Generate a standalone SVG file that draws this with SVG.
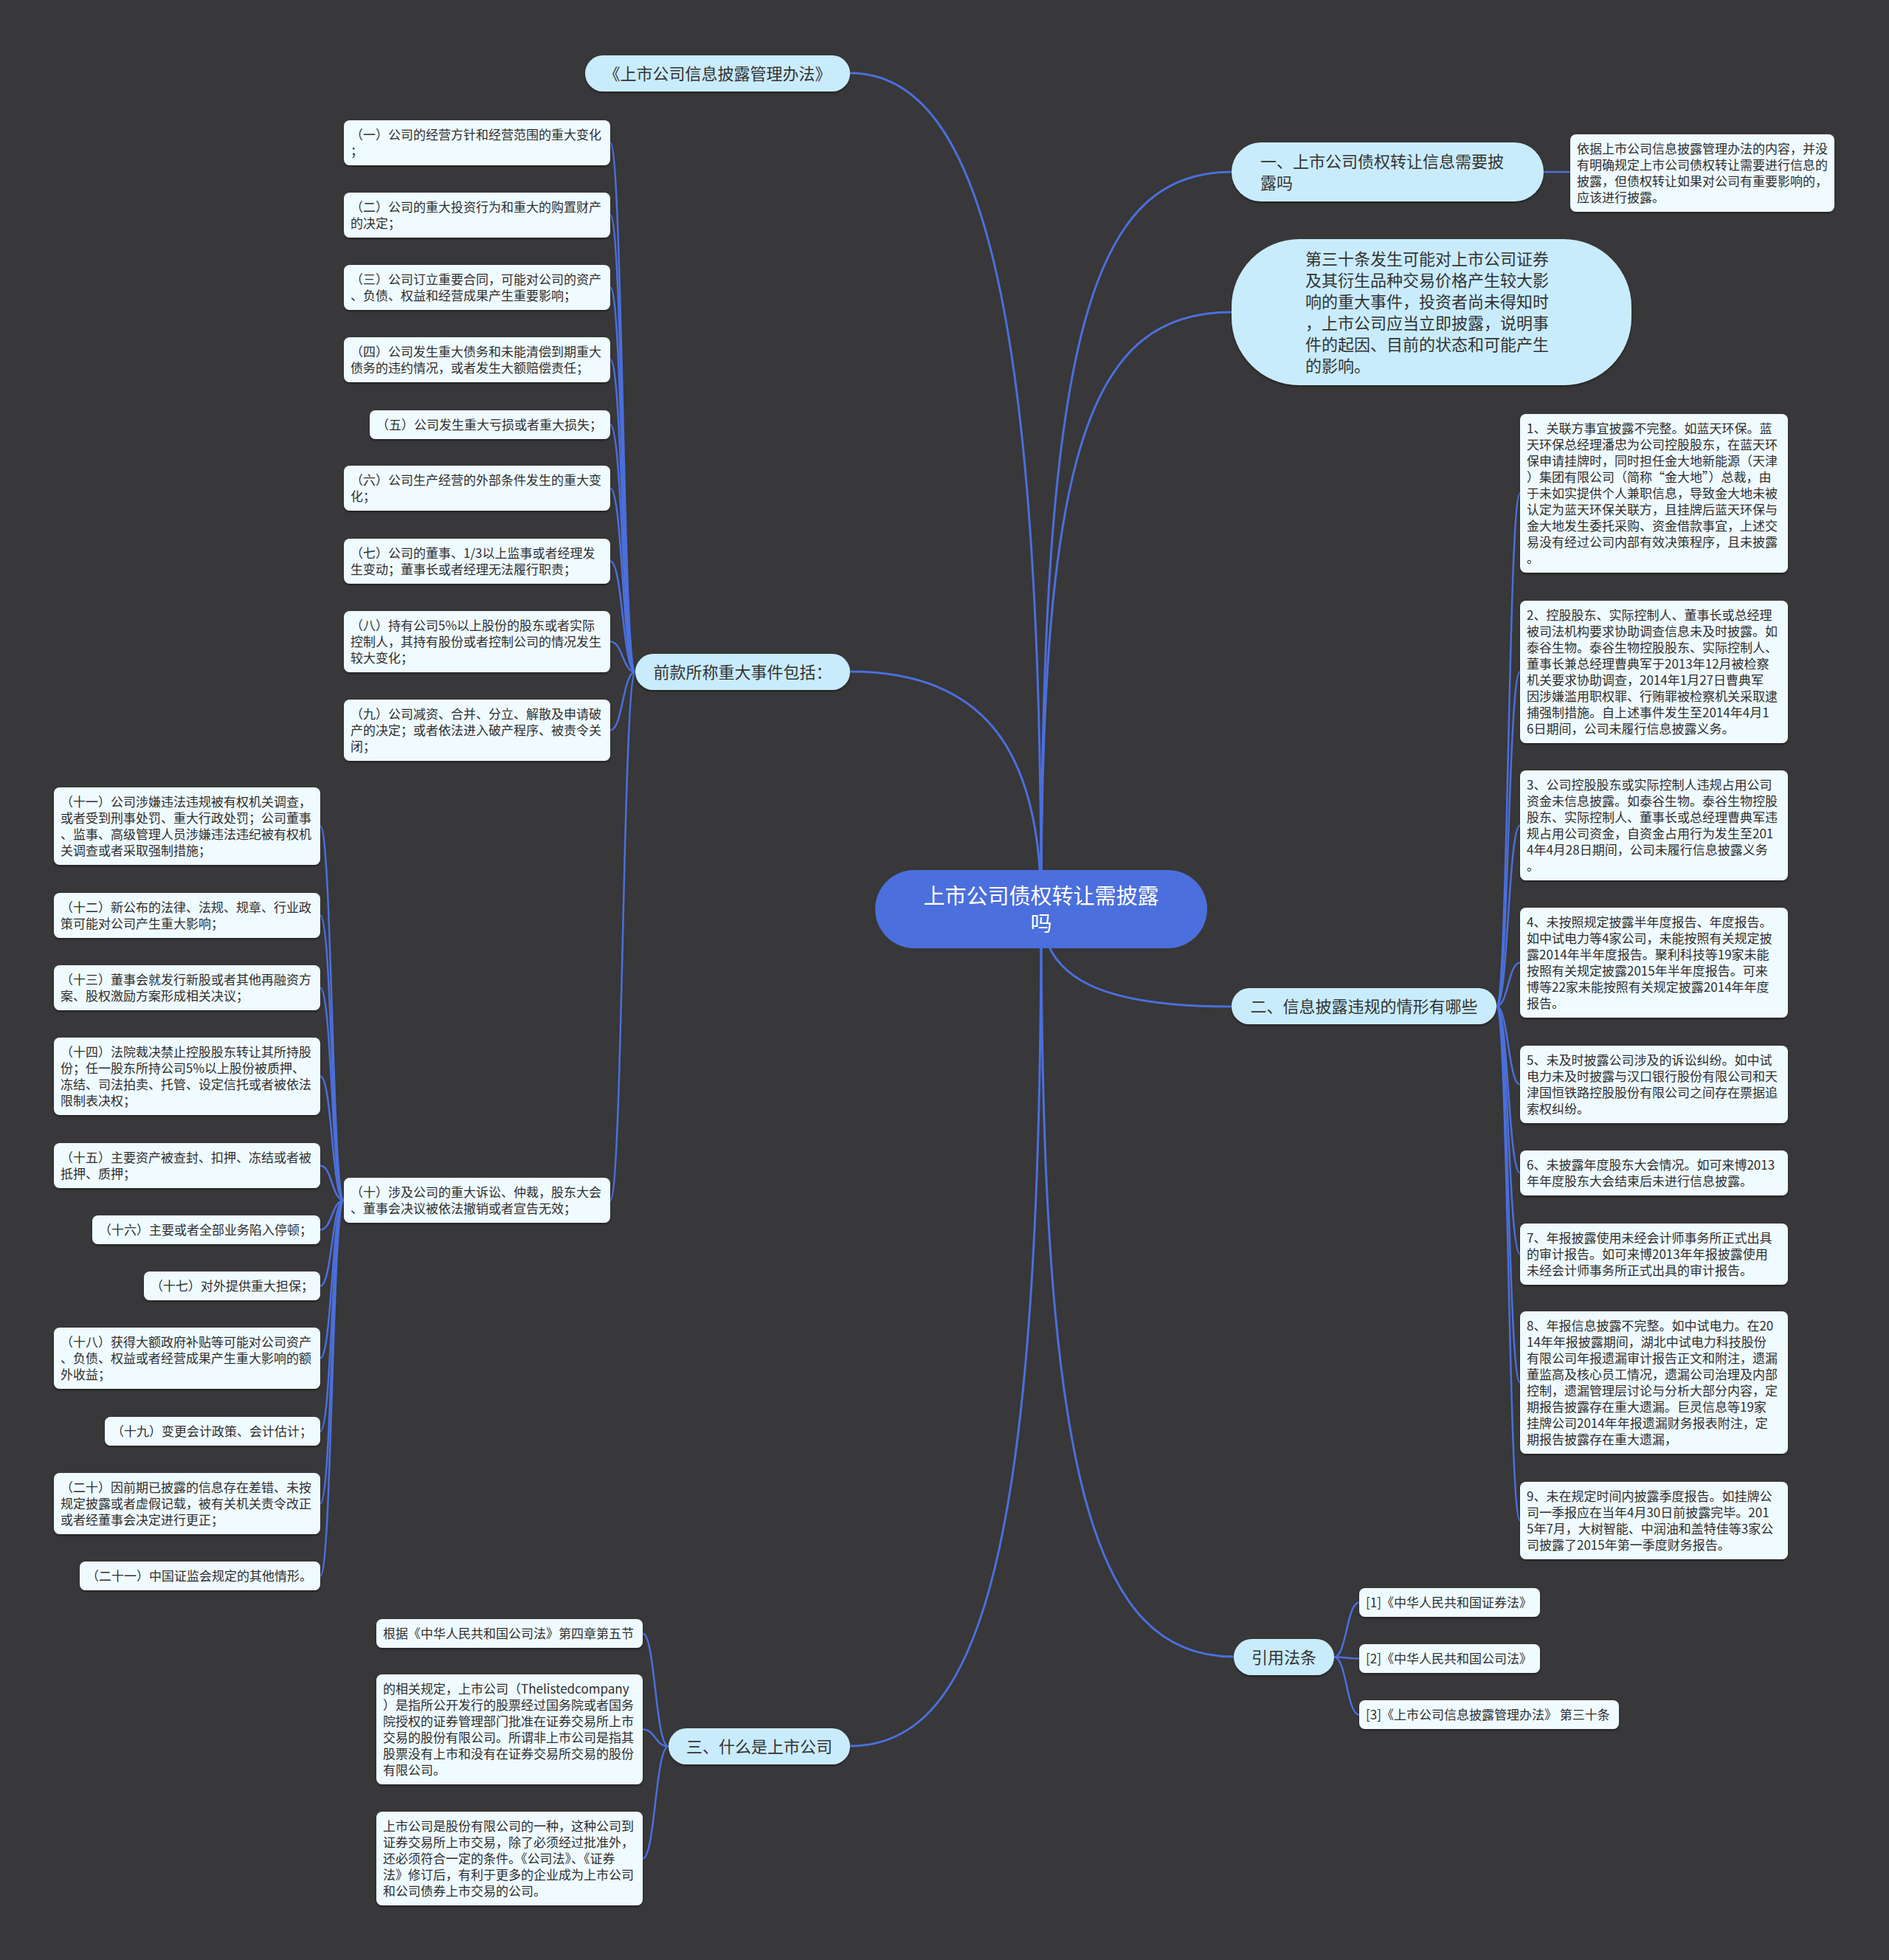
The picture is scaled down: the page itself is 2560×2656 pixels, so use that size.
<svg xmlns="http://www.w3.org/2000/svg" width="2560" height="2656" viewBox="0 0 2560 2656">
<defs>
<filter id="sh" x="-5%" y="-10%" width="110%" height="130%"><feDropShadow dx="0" dy="2" stdDeviation="1.5" flood-color="#000" flood-opacity="0.4"/></filter>
<style>
text{font-family:"Noto Sans CJK SC","Noto Sans",sans-serif}
.leaf{fill:#effbff;filter:url(#sh)}
.lt{font-size:17px;fill:#2e2e2e}
.sub{fill:#c9ecfc;filter:url(#sh)}
.st{font-size:22px;fill:#333}
.stc{font-size:22px;fill:#333;text-anchor:middle}
.conn path{fill:none;stroke:#4b6fdc;stroke-width:2.5}
.conn .main{stroke-width:3}
</style>
</defs>
<rect width="2560" height="2656" fill="#383739"/>
<g class="conn" id="connectors">
<path class="main" d="M1411 1232 C1411 420 1330 99 1152 99"/>
<path class="main" d="M1411 1232 C1411 1000 1320 910 1152 910"/>
<path class="main" d="M1411 1232 C1411 450 1480 233 1669 233"/>
<path class="main" d="M1411 1232 C1411 600 1480 423 1669 423"/>
<path class="main" d="M1411 1232 C1411 1330 1500 1364 1669 1364"/>
<path class="main" d="M1411 1232 C1411 2000 1480 2245 1672 2245"/>
<path class="main" d="M1411 1232 C1411 2100 1330 2366 1152 2366"/>
<path d="M2092 233 L2128 233"/>
<path d="M861 910.5 C844 910.5 844 193.5 827 193.5"/>
<path d="M861 910.5 C844 910.5 844 291.5 827 291.5"/>
<path d="M861 910.5 C844 910.5 844 389.5 827 389.5"/>
<path d="M861 910.5 C844 910.5 844 487.5 827 487.5"/>
<path d="M861 910.5 C844 910.5 844 575.5 827 575.5"/>
<path d="M861 910.5 C844 910.5 844 661.5 827 661.5"/>
<path d="M861 910.5 C844 910.5 844 760.5 827 760.5"/>
<path d="M861 910.5 C844 910.5 844 869.5 827 869.5"/>
<path d="M861 910.5 C844 910.5 844 989.5 827 989.5"/>
<path d="M861 910.5 C844 910.5 844 1626.5 827 1626.5"/>
<path d="M466 1626.5 C450 1626.5 450 1119.5 434 1119.5"/>
<path d="M466 1626.5 C450 1626.5 450 1240.5 434 1240.5"/>
<path d="M466 1626.5 C450 1626.5 450 1338.5 434 1338.5"/>
<path d="M466 1626.5 C450 1626.5 450 1458.5 434 1458.5"/>
<path d="M466 1626.5 C450 1626.5 450 1579.5 434 1579.5"/>
<path d="M466 1626.5 C450 1626.5 450 1666.5 434 1666.5"/>
<path d="M466 1626.5 C450 1626.5 450 1742.5 434 1742.5"/>
<path d="M466 1626.5 C450 1626.5 450 1840.5 434 1840.5"/>
<path d="M466 1626.5 C450 1626.5 450 1939.5 434 1939.5"/>
<path d="M466 1626.5 C450 1626.5 450 2037.5 434 2037.5"/>
<path d="M466 1626.5 C450 1626.5 450 2135.5 434 2135.5"/>
<path d="M2028 1363.5 C2044 1363.5 2044 668.5 2060 668.5"/>
<path d="M2028 1363.5 C2044 1363.5 2044 910.5 2060 910.5"/>
<path d="M2028 1363.5 C2044 1363.5 2044 1118.5 2060 1118.5"/>
<path d="M2028 1363.5 C2044 1363.5 2044 1304.5 2060 1304.5"/>
<path d="M2028 1363.5 C2044 1363.5 2044 1469.5 2060 1469.5"/>
<path d="M2028 1363.5 C2044 1363.5 2044 1589.5 2060 1589.5"/>
<path d="M2028 1363.5 C2044 1363.5 2044 1699.5 2060 1699.5"/>
<path d="M2028 1363.5 C2044 1363.5 2044 1873.5 2060 1873.5"/>
<path d="M2028 1363.5 C2044 1363.5 2044 2060.5 2060 2060.5"/>
<path d="M1808 2245.5 C1825 2245.5 1825 2171.5 1842 2171.5"/>
<path d="M1808 2245.5 C1825 2245.5 1825 2247.5 1842 2247.5"/>
<path d="M1808 2245.5 C1825 2245.5 1825 2323.5 1842 2323.5"/>
<path d="M906 2366.5 C888 2366.5 888 2213.5 871 2213.5"/>
<path d="M906 2366.5 C888 2366.5 888 2343.5 871 2343.5"/>
<path d="M906 2366.5 C888 2366.5 888 2518.5 871 2518.5"/>
</g>

<g id="center">
<rect x="1186" y="1179" width="450" height="106" rx="53" fill="#4b6fdc"/>
<text x="1411" y="1225" font-size="29" fill="#fff" text-anchor="middle">上市公司债权转让需披露</text>
<text x="1411" y="1262" font-size="29" fill="#fff" text-anchor="middle">吗</text>
</g>

<g id="n-title"><rect class="sub" x="793" y="75" width="359" height="49" rx="24.5"/><text class="stc" x="972.5" y="107.5">《上市公司信息披露管理办法》</text></g>
<g id="n-qiankuan"><rect class="sub" x="861" y="886" width="291" height="49" rx="24.5"/><text class="stc" x="1006.5" y="918.5">前款所称重大事件包括：</text></g>
<g id="n-san"><rect class="sub" x="906" y="2342" width="246" height="49" rx="24.5"/><text class="stc" x="1029" y="2374.5">三、什么是上市公司</text></g>
<g id="n-yi"><rect class="sub" x="1669" y="193" width="423" height="80" rx="40"/><text class="st" x="1708" y="227">一、上市公司债权转让信息需要披</text><text class="st" x="1708" y="256">露吗</text></g>
<g id="n-art30"><rect class="sub" x="1669" y="324" width="542" height="198" rx="92"/>
<text class="st" x="1769" y="359">第三十条发生可能对上市公司证券</text>
<text class="st" x="1769" y="388">及其衍生品种交易价格产生较大影</text>
<text class="st" x="1769" y="417">响的重大事件，投资者尚未得知时</text>
<text class="st" x="1769" y="446">，上市公司应当立即披露，说明事</text>
<text class="st" x="1769" y="475">件的起因、目前的状态和可能产生</text>
<text class="st" x="1769" y="504">的影响。</text></g>
<g id="n-er"><rect class="sub" x="1669" y="1339" width="359" height="49" rx="24.5"/><text class="stc" x="1848.5" y="1371.5">二、信息披露违规的情形有哪些</text></g>
<g id="n-yinyong"><rect class="sub" x="1672" y="2221" width="136" height="49" rx="24.5"/><text class="stc" x="1740" y="2253.5">引用法条</text></g>

<g id="l-yiju"><rect class="leaf" x="2128" y="182" width="358" height="105" rx="8"/>
<text class="lt" x="2137" y="208">依据上市公司信息披露管理办法的内容，并没</text>
<text class="lt" x="2137" y="230">有明确规定上市公司债权转让需要进行信息的</text>
<text class="lt" x="2137" y="252">披露，但债权转让如果对公司有重要影响的，</text>
<text class="lt" x="2137" y="274">应该进行披露。</text></g>

<g id="l-1"><rect class="leaf" x="466" y="163" width="361" height="61" rx="8"/><text class="lt" x="475" y="189">（一）公司的经营方针和经营范围的重大变化</text><text class="lt" x="475" y="211">；</text></g>
<g id="l-2"><rect class="leaf" x="466" y="261" width="361" height="61" rx="8"/><text class="lt" x="475" y="287">（二）公司的重大投资行为和重大的购置财产</text><text class="lt" x="475" y="309">的决定；</text></g>
<g id="l-3"><rect class="leaf" x="466" y="359" width="361" height="61" rx="8"/><text class="lt" x="475" y="385">（三）公司订立重要合同，可能对公司的资产</text><text class="lt" x="475" y="407">、负债、权益和经营成果产生重要影响；</text></g>
<g id="l-4"><rect class="leaf" x="466" y="457" width="361" height="61" rx="8"/><text class="lt" x="475" y="483">（四）公司发生重大债务和未能清偿到期重大</text><text class="lt" x="475" y="505">债务的违约情况，或者发生大额赔偿责任；</text></g>
<g id="l-5"><rect class="leaf" x="501" y="556" width="326" height="39" rx="8"/><text class="lt" x="510" y="582">（五）公司发生重大亏损或者重大损失；</text></g>
<g id="l-6"><rect class="leaf" x="466" y="631" width="361" height="61" rx="8"/><text class="lt" x="475" y="657">（六）公司生产经营的外部条件发生的重大变</text><text class="lt" x="475" y="679">化；</text></g>
<g id="l-7"><rect class="leaf" x="466" y="730" width="361" height="61" rx="8"/><text class="lt" x="475" y="756">（七）公司的董事、1/3以上监事或者经理发</text><text class="lt" x="475" y="778">生变动；董事长或者经理无法履行职责；</text></g>
<g id="l-8"><rect class="leaf" x="466" y="828" width="361" height="83" rx="8"/><text class="lt" x="475" y="854">（八）持有公司5%以上股份的股东或者实际</text><text class="lt" x="475" y="876">控制人，其持有股份或者控制公司的情况发生</text><text class="lt" x="475" y="898">较大变化；</text></g>
<g id="l-9"><rect class="leaf" x="466" y="948" width="361" height="83" rx="8"/><text class="lt" x="475" y="974">（九）公司减资、合并、分立、解散及申请破</text><text class="lt" x="475" y="996">产的决定；或者依法进入破产程序、被责令关</text><text class="lt" x="475" y="1018">闭；</text></g>
<g id="l-10"><rect class="leaf" x="466" y="1596" width="361" height="61" rx="8"/><text class="lt" x="475" y="1622">（十）涉及公司的重大诉讼、仲裁，股东大会</text><text class="lt" x="475" y="1644">、董事会决议被依法撤销或者宣告无效；</text></g>

<g id="l-11"><rect class="leaf" x="73" y="1067" width="361" height="105" rx="8"/><text class="lt" x="82" y="1093">（十一）公司涉嫌违法违规被有权机关调查，</text><text class="lt" x="82" y="1115">或者受到刑事处罚、重大行政处罚；公司董事</text><text class="lt" x="82" y="1137">、监事、高级管理人员涉嫌违法违纪被有权机</text><text class="lt" x="82" y="1159">关调查或者采取强制措施；</text></g>
<g id="l-12"><rect class="leaf" x="73" y="1210" width="361" height="61" rx="8"/><text class="lt" x="82" y="1236">（十二）新公布的法律、法规、规章、行业政</text><text class="lt" x="82" y="1258">策可能对公司产生重大影响；</text></g>
<g id="l-13"><rect class="leaf" x="73" y="1308" width="361" height="61" rx="8"/><text class="lt" x="82" y="1334">（十三）董事会就发行新股或者其他再融资方</text><text class="lt" x="82" y="1356">案、股权激励方案形成相关决议；</text></g>
<g id="l-14"><rect class="leaf" x="73" y="1406" width="361" height="105" rx="8"/><text class="lt" x="82" y="1432">（十四）法院裁决禁止控股股东转让其所持股</text><text class="lt" x="82" y="1454">份；任一股东所持公司5%以上股份被质押、</text><text class="lt" x="82" y="1476">冻结、司法拍卖、托管、设定信托或者被依法</text><text class="lt" x="82" y="1498">限制表决权；</text></g>
<g id="l-15"><rect class="leaf" x="73" y="1549" width="361" height="61" rx="8"/><text class="lt" x="82" y="1575">（十五）主要资产被查封、扣押、冻结或者被</text><text class="lt" x="82" y="1597">抵押、质押；</text></g>
<g id="l-16"><rect class="leaf" x="125" y="1647" width="309" height="39" rx="8"/><text class="lt" x="134" y="1673">（十六）主要或者全部业务陷入停顿；</text></g>
<g id="l-17"><rect class="leaf" x="195" y="1723" width="239" height="39" rx="8"/><text class="lt" x="204" y="1749">（十七）对外提供重大担保；</text></g>
<g id="l-18"><rect class="leaf" x="73" y="1799" width="361" height="83" rx="8"/><text class="lt" x="82" y="1825">（十八）获得大额政府补贴等可能对公司资产</text><text class="lt" x="82" y="1847">、负债、权益或者经营成果产生重大影响的额</text><text class="lt" x="82" y="1869">外收益；</text></g>
<g id="l-19"><rect class="leaf" x="142" y="1920" width="292" height="39" rx="8"/><text class="lt" x="151" y="1946">（十九）变更会计政策、会计估计；</text></g>
<g id="l-20"><rect class="leaf" x="73" y="1996" width="361" height="83" rx="8"/><text class="lt" x="82" y="2022">（二十）因前期已披露的信息存在差错、未按</text><text class="lt" x="82" y="2044">规定披露或者虚假记载，被有关机关责令改正</text><text class="lt" x="82" y="2066">或者经董事会决定进行更正；</text></g>
<g id="l-21"><rect class="leaf" x="108" y="2116" width="326" height="39" rx="8"/><text class="lt" x="117" y="2142">（二十一）中国证监会规定的其他情形。</text></g>

<g id="r-1"><rect class="leaf" x="2060" y="561" width="363" height="215" rx="8"/>
<text class="lt" x="2069" y="587">1、关联方事宜披露不完整。如蓝天环保。蓝</text>
<text class="lt" x="2069" y="609">天环保总经理潘忠为公司控股股东，在蓝天环</text>
<text class="lt" x="2069" y="631">保申请挂牌时，同时担任金大地新能源（天津</text>
<text class="lt" x="2069" y="653">）集团有限公司（简称“金大地”）总裁，由</text>
<text class="lt" x="2069" y="675">于未如实提供个人兼职信息，导致金大地未被</text>
<text class="lt" x="2069" y="697">认定为蓝天环保关联方，且挂牌后蓝天环保与</text>
<text class="lt" x="2069" y="719">金大地发生委托采购、资金借款事宜，上述交</text>
<text class="lt" x="2069" y="741">易没有经过公司内部有效决策程序，且未披露</text>
<text class="lt" x="2069" y="763">。</text></g>
<g id="r-2"><rect class="leaf" x="2060" y="814" width="363" height="193" rx="8"/>
<text class="lt" x="2069" y="840">2、控股股东、实际控制人、董事长或总经理</text>
<text class="lt" x="2069" y="862">被司法机构要求协助调查信息未及时披露。如</text>
<text class="lt" x="2069" y="884">泰谷生物。泰谷生物控股股东、实际控制人、</text>
<text class="lt" x="2069" y="906">董事长兼总经理曹典军于2013年12月被检察</text>
<text class="lt" x="2069" y="928">机关要求协助调查，2014年1月27日曹典军</text>
<text class="lt" x="2069" y="950">因涉嫌滥用职权罪、行贿罪被检察机关采取逮</text>
<text class="lt" x="2069" y="972">捕强制措施。自上述事件发生至2014年4月1</text>
<text class="lt" x="2069" y="994">6日期间，公司未履行信息披露义务。</text></g>
<g id="r-3"><rect class="leaf" x="2060" y="1044" width="363" height="149" rx="8"/>
<text class="lt" x="2069" y="1070">3、公司控股股东或实际控制人违规占用公司</text>
<text class="lt" x="2069" y="1092">资金未信息披露。如泰谷生物。泰谷生物控股</text>
<text class="lt" x="2069" y="1114">股东、实际控制人、董事长或总经理曹典军违</text>
<text class="lt" x="2069" y="1136">规占用公司资金，自资金占用行为发生至201</text>
<text class="lt" x="2069" y="1158">4年4月28日期间，公司未履行信息披露义务</text>
<text class="lt" x="2069" y="1180">。</text></g>
<g id="r-4"><rect class="leaf" x="2060" y="1230" width="363" height="149" rx="8"/>
<text class="lt" x="2069" y="1256">4、未按照规定披露半年度报告、年度报告。</text>
<text class="lt" x="2069" y="1278">如中试电力等4家公司，未能按照有关规定披</text>
<text class="lt" x="2069" y="1300">露2014年半年度报告。聚利科技等19家未能</text>
<text class="lt" x="2069" y="1322">按照有关规定披露2015年半年度报告。可来</text>
<text class="lt" x="2069" y="1344">博等22家未能按照有关规定披露2014年年度</text>
<text class="lt" x="2069" y="1366">报告。</text></g>
<g id="r-5"><rect class="leaf" x="2060" y="1417" width="363" height="105" rx="8"/>
<text class="lt" x="2069" y="1443">5、未及时披露公司涉及的诉讼纠纷。如中试</text>
<text class="lt" x="2069" y="1465">电力未及时披露与汉口银行股份有限公司和天</text>
<text class="lt" x="2069" y="1487">津国恒铁路控股股份有限公司之间存在票据追</text>
<text class="lt" x="2069" y="1509">索权纠纷。</text></g>
<g id="r-6"><rect class="leaf" x="2060" y="1559" width="363" height="61" rx="8"/>
<text class="lt" x="2069" y="1585">6、未披露年度股东大会情况。如可来博2013</text>
<text class="lt" x="2069" y="1607">年年度股东大会结束后未进行信息披露。</text></g>
<g id="r-7"><rect class="leaf" x="2060" y="1658" width="363" height="83" rx="8"/>
<text class="lt" x="2069" y="1684">7、年报披露使用未经会计师事务所正式出具</text>
<text class="lt" x="2069" y="1706">的审计报告。如可来博2013年年报披露使用</text>
<text class="lt" x="2069" y="1728">未经会计师事务所正式出具的审计报告。</text></g>
<g id="r-8"><rect class="leaf" x="2060" y="1777" width="363" height="193" rx="8"/>
<text class="lt" x="2069" y="1803">8、年报信息披露不完整。如中试电力。在20</text>
<text class="lt" x="2069" y="1825">14年年报披露期间，湖北中试电力科技股份</text>
<text class="lt" x="2069" y="1847">有限公司年报遗漏审计报告正文和附注，遗漏</text>
<text class="lt" x="2069" y="1869">董监高及核心员工情况，遗漏公司治理及内部</text>
<text class="lt" x="2069" y="1891">控制，遗漏管理层讨论与分析大部分内容，定</text>
<text class="lt" x="2069" y="1913">期报告披露存在重大遗漏。巨灵信息等19家</text>
<text class="lt" x="2069" y="1935">挂牌公司2014年年报遗漏财务报表附注，定</text>
<text class="lt" x="2069" y="1957">期报告披露存在重大遗漏，</text></g>
<g id="r-9"><rect class="leaf" x="2060" y="2008" width="363" height="105" rx="8"/>
<text class="lt" x="2069" y="2034">9、未在规定时间内披露季度报告。如挂牌公</text>
<text class="lt" x="2069" y="2056">司一季报应在当年4月30日前披露完毕。201</text>
<text class="lt" x="2069" y="2078">5年7月，大树智能、中润油和盖特佳等3家公</text>
<text class="lt" x="2069" y="2100">司披露了2015年第一季度财务报告。</text></g>

<g id="ref-1"><rect class="leaf" x="1842" y="2152" width="245" height="39" rx="8"/><text class="lt" x="1851" y="2178">[1]《中华人民共和国证券法》</text></g>
<g id="ref-2"><rect class="leaf" x="1842" y="2228" width="245" height="39" rx="8"/><text class="lt" x="1851" y="2254">[2]《中华人民共和国公司法》</text></g>
<g id="ref-3"><rect class="leaf" x="1842" y="2304" width="352" height="39" rx="8"/><text class="lt" x="1851" y="2330">[3]《上市公司信息披露管理办法》 第三十条</text></g>

<g id="s-1"><rect class="leaf" x="510" y="2194" width="361" height="39" rx="8"/><text class="lt" x="519" y="2220">根据《中华人民共和国公司法》第四章第五节</text></g>
<g id="s-2"><rect class="leaf" x="510" y="2269" width="361" height="149" rx="8"/>
<text class="lt" x="519" y="2295">的相关规定，上市公司（Thelistedcompany</text>
<text class="lt" x="519" y="2317">）是指所公开发行的股票经过国务院或者国务</text>
<text class="lt" x="519" y="2339">院授权的证券管理部门批准在证券交易所上市</text>
<text class="lt" x="519" y="2361">交易的股份有限公司。所谓非上市公司是指其</text>
<text class="lt" x="519" y="2383">股票没有上市和没有在证券交易所交易的股份</text>
<text class="lt" x="519" y="2405">有限公司。</text></g>
<g id="s-3"><rect class="leaf" x="510" y="2455" width="361" height="127" rx="8"/>
<text class="lt" x="519" y="2481">上市公司是股份有限公司的一种，这种公司到</text>
<text class="lt" x="519" y="2503">证券交易所上市交易，除了必须经过批准外，</text>
<text class="lt" x="519" y="2525">还必须符合一定的条件。《公司法》、《证券</text>
<text class="lt" x="519" y="2547">法》修订后，有利于更多的企业成为上市公司</text>
<text class="lt" x="519" y="2569">和公司债券上市交易的公司。</text></g>
</svg>
